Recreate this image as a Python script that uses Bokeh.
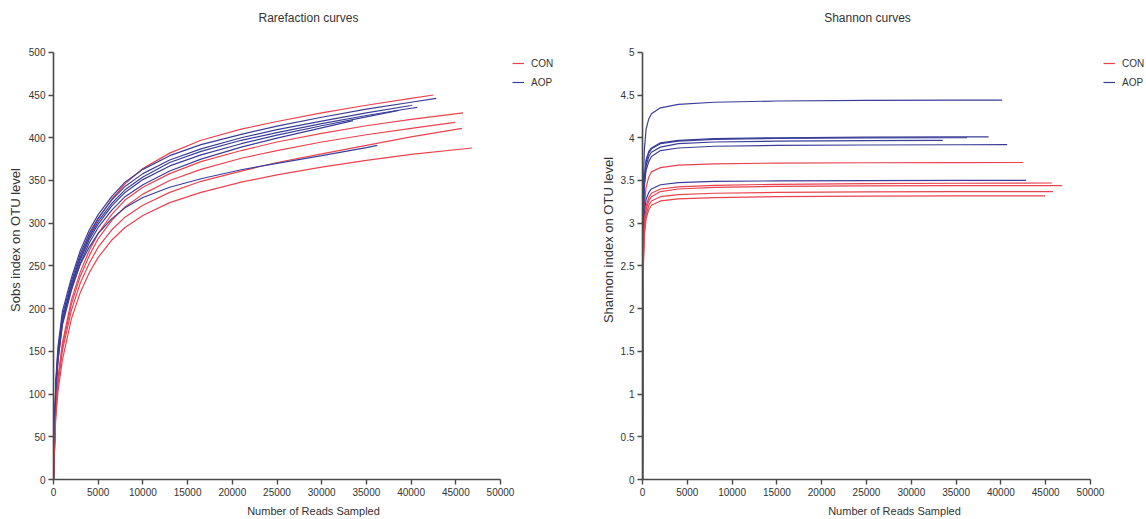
from bokeh.plotting import figure
from bokeh.layouts import row
from bokeh.models import (Range1d, SingleIntervalTicker, NumeralTickFormatter, Legend,
                          LegendItem, Label)
from bokeh.embed import file_html
from bokeh.resources import INLINE

# ---------------- data ----------------
samples = ["CON1", "AOP1", "AOP2", "AOP3", "AOP4", "AOP5", "CON2", "CON3", "CON4", "AOP6", "CON5"]
groups = ["CON", "AOP", "AOP", "AOP", "AOP", "AOP", "CON", "CON", "CON", "AOP", "CON"]
end_depth = [42500, 42815, 40140, 40700, 38620, 33510, 45810, 44930, 45690, 36230, 46810]
end_sobs = [450, 446, 438, 435.5, 432, 420, 429, 418, 411, 391, 388]
end_shannon = [3.71, 3.50, 4.44, 3.92, 4.01, 3.97, 3.37, 3.32, 3.47, 4.00, 3.44]

# sampled depths for the Sobs curves
sobs_depth = [0, 250, 500, 1000, 2000, 3000, 4000, 5000, 6500, 8000, 10000, 13000, 16500,
              21000, 25000, 30000, 35000, 40000]
sobs_CON1 = [0, 95, 138, 183, 228, 260, 285, 305, 328, 346, 364, 382, 397, 410, 419, 429, 438, 446]
sobs_AOP1 = [0, 115, 155, 197, 236, 268, 292, 310, 331, 348, 363, 379, 392, 404, 413.5, 424, 433.5, 441.5]
sobs_AOP2 = [0, 110, 150, 192, 232, 264, 288, 306, 327, 343, 358, 374, 387, 400, 409.5, 419.5, 429, 437.7]
sobs_AOP3 = [0, 106, 146, 188, 228, 260, 284, 302, 323, 339, 354, 371, 384, 397, 406, 416.5, 426, 434.5]
sobs_AOP4 = [0, 103, 143, 185, 225, 257, 281, 299, 320, 336, 351, 367, 380, 393, 403, 414, 424.5]
sobs_AOP5 = [0, 100, 140, 181, 221, 253, 277, 295, 315, 331, 345, 361, 375, 389, 399.5, 411.5]
sobs_CON2 = [0, 82, 118, 160, 210, 243, 268, 288, 310, 327, 342, 358, 372, 385, 395, 405, 414, 421.5]
sobs_CON3 = [0, 80, 115, 156, 205, 238, 262, 282, 303, 319, 334, 350, 363, 376, 385, 395, 403.5, 411]
sobs_CON4 = [0, 78, 111, 151, 198, 230, 253, 272, 292, 307, 321, 336, 349, 361, 371, 381, 391, 401]
sobs_AOP6 = [0, 105, 145, 185, 224, 252, 272, 288, 305, 318, 330, 342, 352, 362.5, 370, 379, 388.5]
sobs_CON5 = [0, 72, 103, 140, 188, 219, 242, 260, 280, 295, 309, 324, 336, 348, 356.5, 365.5, 373.5, 380.5]

# sampled depths for the Shannon curves
shan_depth = [0, 50, 100, 200, 400, 700, 1000, 2000, 4000, 8000, 15000, 25000, 35000]
shan_CON1 = [0, 2.4, 2.85, 3.2, 3.42, 3.54, 3.6, 3.65, 3.68, 3.695, 3.703, 3.707, 3.709]
shan_AOP1 = [0, 2.4, 2.8, 3.1, 3.28, 3.36, 3.4, 3.45, 3.475, 3.488, 3.495, 3.498, 3.5]
shan_AOP2 = [0, 2.9, 3.45, 3.85, 4.1, 4.22, 4.28, 4.35, 4.39, 4.415, 4.43, 4.436, 4.439]
shan_AOP3 = [0, 2.6, 3.1, 3.42, 3.62, 3.72, 3.78, 3.85, 3.88, 3.9, 3.91, 3.915, 3.918]
shan_AOP4 = [0, 2.7, 3.2, 3.52, 3.74, 3.84, 3.88, 3.94, 3.97, 3.99, 4.0, 4.006, 4.009]
shan_AOP5 = [0, 2.6, 3.12, 3.46, 3.67, 3.78, 3.83, 3.89, 3.93, 3.95, 3.96, 3.966]
shan_CON2 = [0, 2.1, 2.55, 2.9, 3.1, 3.21, 3.26, 3.31, 3.335, 3.35, 3.36, 3.366, 3.369]
shan_CON3 = [0, 2.1, 2.5, 2.85, 3.05, 3.16, 3.21, 3.26, 3.285, 3.3, 3.31, 3.316, 3.319]
shan_CON4 = [0, 2.2, 2.65, 2.98, 3.2, 3.3, 3.35, 3.4, 3.425, 3.443, 3.455, 3.463, 3.467]
shan_AOP6 = [0, 2.7, 3.18, 3.5, 3.72, 3.82, 3.87, 3.93, 3.96, 3.98, 3.992, 3.998, 4.0]
shan_CON5 = [0, 2.2, 2.6, 2.95, 3.16, 3.26, 3.31, 3.37, 3.4, 3.418, 3.43, 3.436, 3.439]

sobs_values = [sobs_CON1, sobs_AOP1, sobs_AOP2, sobs_AOP3, sobs_AOP4, sobs_AOP5,
               sobs_CON2, sobs_CON3, sobs_CON4, sobs_AOP6, sobs_CON5]
shan_values = [shan_CON1, shan_AOP1, shan_AOP2, shan_AOP3, shan_AOP4, shan_AOP5,
               shan_CON2, shan_CON3, shan_CON4, shan_AOP6, shan_CON5]

# ---------------- style / layout ----------------
COLORS = {"CON": "#E8434F", "AOP": "#3B3E98"}
FONT = "Liberation Sans"
TXT = "#333333"
AX = "#4a4a4a"

W, H = 573, 519
BOTTOM = 38          # px below the x axis
AXIS_H = 429         # px spanned by the y axis (0 .. max)
FRAME_H = H - BOTTOM  # frame reaches the top of the canvas
TITLE_Y = 18         # px from top of canvas (title centre)


def make_panel(title, title_cx, ylabel, depth_grid, values, end_vals, y_end, y_step,
               border_left, axis_px, legend_x, ylabel_standoff, fmt=None):
    frame_w = W - border_left
    p = figure(width=W, height=H, output_backend="svg", toolbar_location=None,
               min_border_left=border_left, min_border_right=0,
               min_border_top=0, min_border_bottom=BOTTOM)
    # the 0-50000 axis occupies axis_px pixels; the rest of the frame holds the legend
    x_full = 50000 * frame_w / axis_px
    y_full = y_end * FRAME_H / AXIS_H
    p.x_range = Range1d(0, x_full)
    p.y_range = Range1d(0, y_full)

    p.xgrid.visible = False
    p.ygrid.visible = False
    p.outline_line_color = None
    p.background_fill_color = "white"
    p.border_fill_color = "white"

    renderers = {}
    for s, g, vals, ed, ev in zip(samples, groups, values, end_depth, end_vals):
        xs = [d for d in depth_grid if d < ed] + [ed]
        ys = list(vals[:len(xs) - 1]) + [ev]
        r = p.line(xs, ys, line_color=COLORS[g], line_width=1.2)
        renderers.setdefault(g, r)

    for ax in (p.xaxis[0], p.yaxis[0]):
        ax.axis_line_color = AX
        ax.axis_line_width = 1.6
        ax.major_tick_line_color = AX
        ax.major_tick_line_width = 1.4
        ax.major_tick_out = 5
        ax.major_tick_in = 0
        ax.minor_tick_line_color = None
        ax.major_label_text_font = FONT
        ax.major_label_text_font_size = "10px"
        ax.major_label_text_color = TXT
        ax.axis_label_text_font = FONT
        ax.axis_label_text_font_style = "normal"
        ax.axis_label_text_color = TXT

    p.xaxis[0].ticker = SingleIntervalTicker(interval=5000)
    p.xaxis[0].bounds = (0, 50000)
    p.xaxis[0].axis_label = "Number of Reads Sampled"
    p.xaxis[0].axis_label_text_font_size = "11px"
    p.xaxis[0].major_label_standoff = 3
    p.xaxis[0].axis_label_standoff = 6
    p.yaxis[0].ticker = SingleIntervalTicker(interval=y_step)
    p.yaxis[0].bounds = (0, y_end)
    p.yaxis[0].axis_label = ylabel
    p.yaxis[0].axis_label_text_font_size = "13px"
    p.yaxis[0].major_label_standoff = 3
    p.yaxis[0].axis_label_standoff = ylabel_standoff
    if fmt is not None:
        p.yaxis[0].formatter = fmt

    # title, placed in the free space above the axis
    p.add_layout(Label(x=x_full * (title_cx - border_left) / frame_w,
                       y=y_full * (FRAME_H - TITLE_Y) / FRAME_H,
                       text=title, text_align="center", text_baseline="middle",
                       text_font=FONT, text_font_size="12px", text_color=TXT))

    legend = Legend(items=[LegendItem(label="CON", renderers=[renderers["CON"]]),
                           LegendItem(label="AOP", renderers=[renderers["AOP"]])],
                    location=(legend_x, FRAME_H - 92))
    legend.padding = 0
    legend.margin = 0
    legend.spacing = 3
    legend.glyph_width = 12
    legend.glyph_height = 16
    legend.label_height = 16
    legend.label_standoff = 7
    legend.label_text_font = FONT
    legend.label_text_font_size = "10px"
    legend.label_text_color = TXT
    legend.background_fill_alpha = 0
    legend.border_line_alpha = 0
    p.add_layout(legend, "center")
    return p


p_left = make_panel("Rarefaction curves", 308, "Sobs index on OTU level", sobs_depth, sobs_values,
                    end_sobs, 500, 50, 53, 447, 459, 3)
p_right = make_panel("Shannon curves", 867 - W, "Shannon index on OTU level", shan_depth, shan_values,
                     end_shannon, 5, 0.5, 69, 448, 461, 2, NumeralTickFormatter(format="0.[0]"))
layout = row(p_left, p_right, spacing=0)

open("out.html", "w").write(file_html(layout, INLINE))
